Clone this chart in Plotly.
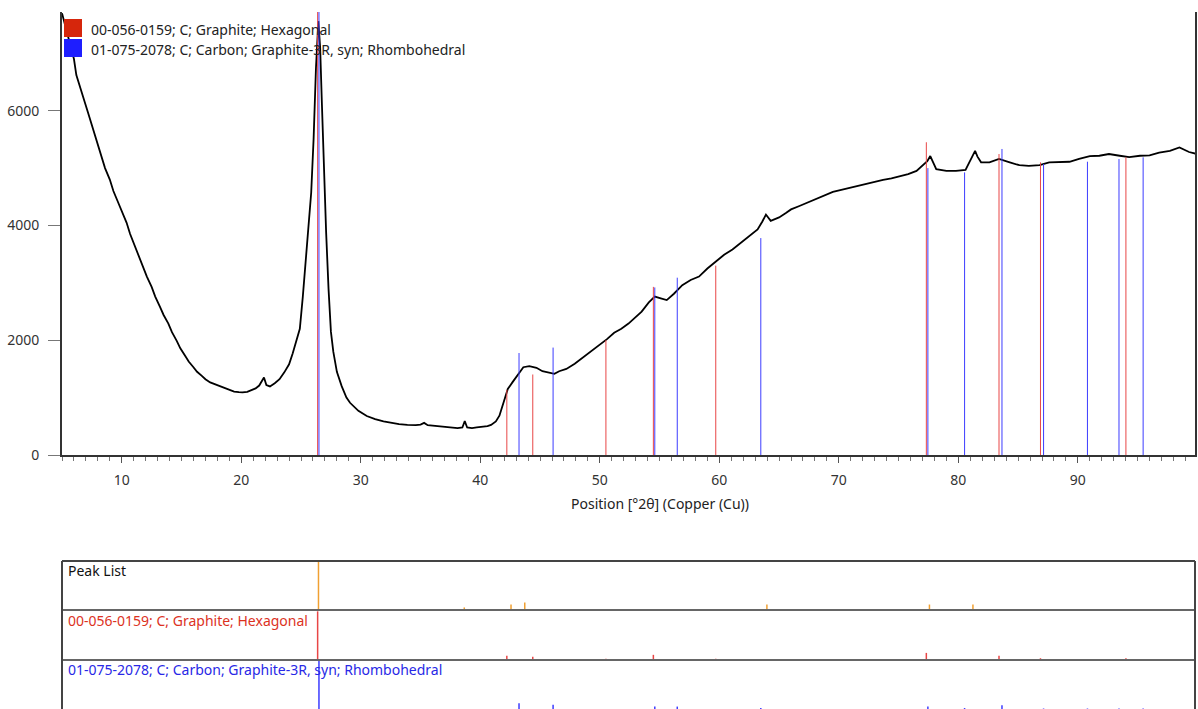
import plotly.graph_objects as go

# ---------------- data ----------------
two_theta = [5.0, 5.3, 5.6, 6.0, 6.2, 6.5, 6.9, 7.2, 7.6, 8.0, 8.3, 8.6, 9.0, 9.3, 9.7, 10.0, 10.4, 10.7,
             11.1, 11.4, 11.8, 12.1, 12.5, 12.8, 13.2, 13.5, 13.9, 14.2, 14.6, 14.9, 15.3, 15.6, 16.0, 16.3,
             16.7, 17.0, 17.4, 17.7, 18.0, 18.4, 18.7, 19.1, 19.4, 19.8, 20.1, 20.5, 20.8, 21.2, 21.5, 21.8,
             21.9, 22.1, 22.4, 22.8, 23.2, 23.6, 24.0, 24.3, 24.6, 24.9, 25.15, 25.4, 25.6, 25.85, 26.05,
             26.25, 26.45, 26.6, 26.75, 26.9, 27.1, 27.3, 27.5, 27.7, 28.0, 28.4, 28.8, 29.1, 29.8, 30.5,
             31.2, 31.9, 32.6, 33.2, 33.9, 34.6, 35.0, 35.3, 35.6, 36.0, 36.7, 37.4, 38.1, 38.5, 38.7, 38.9,
             39.3, 39.7, 40.2, 40.6, 40.9, 41.3, 41.6, 41.9, 42.3, 42.7, 43.1, 43.6, 44.1, 44.7, 45.2, 45.8,
             46.2, 46.6, 47.2, 47.9, 48.6, 49.3, 50.0, 50.6, 51.2, 51.8, 52.4, 53.0, 53.5, 54.1, 54.6, 55.1,
             55.6, 56.2, 56.9, 57.6, 58.3, 59.0, 59.7, 60.4, 61.1, 61.8, 62.5, 63.2, 63.6, 63.9, 64.3, 65.0,
             65.6, 66.0, 66.7, 67.4, 68.1, 68.8, 69.5, 70.2, 70.9, 71.6, 72.3, 73.0, 73.7, 74.4, 75.1, 75.8,
             76.5, 77.0, 77.4, 77.65, 77.9, 78.15, 79.0, 79.8, 80.6, 81.0, 81.4, 81.6, 81.9, 82.6, 83.4,
             84.3, 85.1, 85.9, 86.8, 87.6, 88.5, 89.3, 90.1, 91.0, 91.8, 92.6, 93.5, 94.3, 95.2, 96.0, 96.8,
             97.7, 98.5, 99.3, 99.9]
counts = [7700, 7450, 7200, 6900, 6620, 6400, 6150, 5950, 5680, 5400, 5220, 5000, 4800, 4600, 4400, 4250, 4050, 3850,
          3640, 3460, 3280, 3110, 2930, 2760, 2580, 2440, 2290, 2140, 1990, 1860, 1730, 1630, 1530, 1450,
          1380, 1320, 1265, 1240, 1210, 1180, 1150, 1120, 1105, 1095, 1090, 1100, 1130, 1160, 1210, 1300,
          1350, 1220, 1195, 1250, 1320, 1440, 1580, 1770, 1980, 2200, 2760, 3400, 4000, 4570, 5500,
          6750, 7560, 7100, 6100, 5000, 3880, 2900, 2150, 1800, 1450, 1200, 1000, 910, 770, 680,
          625, 585, 555, 538, 526, 520, 530, 560, 520, 510, 497, 480, 470, 480, 590, 480,
          470, 480, 490, 505, 525, 585, 685, 890, 1150, 1270, 1385, 1530, 1550, 1520, 1460, 1430,
          1415, 1460, 1500, 1590, 1700, 1800, 1920, 2020, 2130, 2200, 2290, 2400, 2500, 2660, 2760, 2730,
          2700, 2810, 2960, 3050, 3110, 3250, 3370, 3490, 3580, 3700, 3810, 3930, 4070, 4190, 4080, 4140,
          4220, 4280, 4340, 4400, 4460, 4525, 4585, 4620, 4655, 4690, 4730, 4760, 4795, 4820, 4860, 4895,
          4950, 5040, 5120, 5210, 5080, 4980, 4950, 4950, 4970, 5150, 5300, 5200, 5100, 5100, 5160,
          5100, 5050, 5040, 5050, 5100, 5110, 5110, 5160, 5210, 5215, 5245, 5215, 5190, 5215, 5220, 5270,
          5300, 5360, 5280, 5250]

# Reference pattern 00-056-0159 (Graphite, hexagonal)
hex_pos = [26.39, 42.22, 44.39, 50.51, 54.48, 59.70, 77.32, 83.40, 86.87, 94.02]
hex_main_h = [7800, 1135, 1403, 2000, 2930, 3300, 5450, 5245, 5100, 5187]
hex_rel = [1.0, 0.08, 0.06, 0.02, 0.10, 0.02, 0.14, 0.08, 0.03, 0.03]

# Reference pattern 01-075-2078 (Graphite-3R, rhombohedral)
rho_pos = [26.50, 43.24, 46.09, 54.60, 56.48, 63.47, 77.45, 80.52, 83.65, 87.13, 90.80, 93.44, 95.46]
rho_main_h = [7800, 1777, 1872, 2920, 3090, 3780, 5000, 4925, 5333, 5070, 5111, 5158, 5187]
rho_rel = [1.0, 0.12, 0.09, 0.05, 0.05, 0.02, 0.05, 0.02, 0.08, 0.01, 0.01, 0.01, 0.01]

# Peak list
pk_pos = [21.9, 26.46, 35.24, 38.66, 42.57, 43.72, 63.98, 77.58, 81.22]
pk_rel = [0.02, 1.0, 0.02, 0.06, 0.12, 0.16, 0.12, 0.12, 0.12]

hex_name = "00-056-0159; C; Graphite; Hexagonal"
rho_name = "01-075-2078; C; Carbon; Graphite-3R, syn; Rhombohedral"
x_title = "Position [°2θ] (Copper (Cu))"
y_ticks = [0, 2000, 4000, 6000]
x_ticks = [10, 20, 30, 40, 50, 60, 70, 80, 90]

# ---------------- styling ----------------
W, H = 1198, 709
L, R = 62, 3
FONT = "Noto Sans"
FS = 14
RED = "rgb(232,70,70)"
BLUE = "rgb(60,60,255)"
ORANGE = "rgb(240,160,50)"
XR = [5.0, 99.8]


def py(p):  # pixel row -> paper y
    return 1 - p / H


def px(p):  # pixel col -> paper x
    return (p - L) / (W - L - R)


def sticks(pos, h, base=0.0):
    xs, ys = [], []
    for p, v in zip(pos, h):
        xs += [p, p, None]
        ys += [base, base + v, None]
    return xs, ys


fig = go.Figure()

# main pattern
fig.add_trace(go.Scatter(x=two_theta, y=counts, mode="lines",
                         line=dict(color="black", width=1.8), xaxis="x", yaxis="y"))
hx, hy = sticks(hex_pos, hex_main_h)
fig.add_trace(go.Scatter(x=hx, y=hy, mode="lines", line=dict(color=RED, width=1), xaxis="x", yaxis="y"))
rx, ry = sticks(rho_pos, rho_main_h)
fig.add_trace(go.Scatter(x=rx, y=ry, mode="lines", line=dict(color=BLUE, width=1), xaxis="x", yaxis="y"))

# bottom panel sticks
ROWH = 0.98
kx, ky = sticks(pk_pos, [v * ROWH for v in pk_rel], base=2.0)
fig.add_trace(go.Scatter(x=kx, y=ky, mode="lines", line=dict(color=ORANGE, width=1.5), xaxis="x2", yaxis="y2"))
hx2, hy2 = sticks(hex_pos, [v * ROWH for v in hex_rel], base=1.0)
fig.add_trace(go.Scatter(x=hx2, y=hy2, mode="lines", line=dict(color=RED, width=1.5), xaxis="x2", yaxis="y2"))
rx2, ry2 = sticks(rho_pos, [v * ROWH for v in rho_rel], base=0.0)
fig.add_trace(go.Scatter(x=rx2, y=ry2, mode="lines", line=dict(color=BLUE, width=1.5), xaxis="x2", yaxis="y2"))

main_bottom = py(455)
main_top = py(12)
panel_top = py(561)

fig.update_layout(
    width=W, height=H, autosize=False,
    margin=dict(l=L, r=R, t=0, b=0, pad=0, autoexpand=False),
    paper_bgcolor="white", plot_bgcolor="white",
    showlegend=False,
    font=dict(family=FONT, size=FS, color="#333"),
    xaxis=dict(domain=[0, 1], range=XR, anchor="y", tickvals=x_ticks, ticks="outside", automargin=False,
               ticklen=6, tickwidth=1, tickcolor="#555", ticklabelstandoff=5,
               minor=dict(dtick=1, tick0=0, ticks="outside", ticklen=4, tickcolor="#777", showgrid=False),
               showline=True, linecolor="#333", linewidth=2, showgrid=False, zeroline=False,
               tickfont=dict(family=FONT, size=FS, color="#333")),
    yaxis=dict(domain=[main_bottom, main_top], range=[0, 7720], anchor="x", tickvals=y_ticks,
               automargin=False,
               ticks="outside", ticklen=12, tickwidth=1, tickcolor="#777", ticklabelstandoff=6,
               showline=True, linecolor="#333", linewidth=2, mirror=True, showgrid=False, zeroline=False,
               tickfont=dict(family=FONT, size=FS, color="#333")),
    xaxis2=dict(domain=[0, 1], range=XR, anchor="y2", visible=False, automargin=False),
    yaxis2=dict(domain=[0, panel_top], range=[0, 3], anchor="x2", visible=False, automargin=False),
)

shapes = []
# legend squares
shapes.append(dict(type="rect", xref="paper", yref="paper", x0=px(64), x1=px(82), y0=py(37), y1=py(19),
                   fillcolor="rgb(214,38,12)", line=dict(width=0), layer="above"))
shapes.append(dict(type="rect", xref="paper", yref="paper", x0=px(64), x1=px(82), y0=py(57), y1=py(39),
                   fillcolor="rgb(30,30,255)", line=dict(width=0), layer="above"))
# bottom panel frame
shapes.append(dict(type="line", xref="paper", yref="paper", x0=0, x1=1, y0=panel_top, y1=panel_top,
                   line=dict(color="#444", width=2)))
for sep in (610, 660):
    shapes.append(dict(type="line", xref="paper", yref="paper", x0=0, x1=1, y0=py(sep), y1=py(sep),
                       line=dict(color="#666", width=2)))
for xx in (0, 1):
    shapes.append(dict(type="line", xref="paper", yref="paper", x0=xx, x1=xx, y0=0, y1=panel_top,
                       line=dict(color="#444", width=2)))
fig.update_layout(shapes=shapes)

ann = []
ann.append(dict(text=hex_name, xref="paper", yref="paper", x=px(89), y=py(29), xanchor="left",
                yanchor="middle", showarrow=False, font=dict(family=FONT, size=FS, color="#222")))
ann.append(dict(text=rho_name, xref="paper", yref="paper", x=px(89), y=py(49), xanchor="left",
                yanchor="middle", showarrow=False, font=dict(family=FONT, size=FS, color="#222")))
ann.append(dict(text=x_title, xref="paper", yref="paper", x=px(660), y=py(503), xanchor="center",
                yanchor="middle", showarrow=False, font=dict(family=FONT, size=FS, color="#222")))
ann.append(dict(text="Peak List", xref="paper", yref="paper", x=px(66), y=py(570), xanchor="left",
                yanchor="middle", showarrow=False, font=dict(family=FONT, size=FS, color="#111")))
ann.append(dict(text=hex_name, xref="paper", yref="paper", x=px(66), y=py(620), xanchor="left",
                yanchor="middle", showarrow=False, font=dict(family=FONT, size=FS, color="rgb(220,50,30)")))
ann.append(dict(text=rho_name, xref="paper", yref="paper", x=px(66), y=py(669), xanchor="left",
                yanchor="middle", showarrow=False, font=dict(family=FONT, size=FS, color="rgb(40,40,230)")))
fig.update_layout(annotations=ann)

fig.write_html("out.html")
